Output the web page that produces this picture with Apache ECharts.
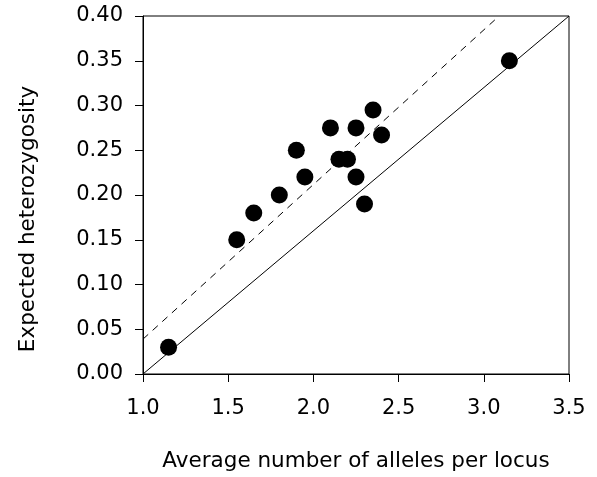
<!DOCTYPE html>
<html>
<head>
<meta charset="utf-8">
<script src="https://cdn.jsdelivr.net/npm/echarts@6/dist/echarts.min.js"></script>
<style>html,body{margin:0;padding:0;background:#fff}#c{width:597px;height:477px}</style>
</head>
<body>
<div id="c"></div>
<script>
var allelesX = [1.15, 1.55, 1.65, 1.80, 1.90, 1.95, 2.10, 2.15, 2.20, 2.25, 2.25, 2.35, 2.40, 2.30, 3.15];
var heteroY = [0.03, 0.15, 0.18, 0.20, 0.25, 0.22, 0.275, 0.24, 0.24, 0.275, 0.22, 0.295, 0.267, 0.19, 0.35];
var solidLineX = [1.0, 3.5];
var solidLineY = [0.0, 0.40];
var dashedLineX = [1.0, 3.09];
var dashedLineY = [0.039, 0.40];
var xTicks = [1.0, 1.5, 2.0, 2.5, 3.0, 3.5];
var yTicks = [0.00, 0.05, 0.10, 0.15, 0.20, 0.25, 0.30, 0.35, 0.40];

function pairs(xs, ys){ return xs.map(function(x,i){ return [x, ys[i]]; }); }

var font = 'DejaVu Sans';
var chart = echarts.init(document.getElementById('c'), null, {renderer:'canvas'});
chart.setOption({
  animation: false,
  backgroundColor: '#fff',
  grid: {left: 143, right: 28, top: 16, bottom: 103, show: true, borderColor: '#000', borderWidth: 1, backgroundColor: 'transparent'},
  xAxis: {
    type: 'value', min: xTicks[0], max: xTicks[xTicks.length-1], interval: 0.5,
    name: 'Average number of alleles per locus', nameLocation: 'middle', nameGap: 76,
    nameTextStyle: {fontFamily: font, fontSize: 21.5, color: '#000'},
    axisLine: {show: true, lineStyle: {color: '#000', width: 1}},
    axisTick: {show: true, inside: false, length: 8, lineStyle: {color: '#000'}},
    axisLabel: {fontFamily: font, fontSize: 21, color: '#000', margin: 24,
      formatter: function(v){ return v.toFixed(1); }},
    splitLine: {show: false}
  },
  yAxis: {
    type: 'value', min: yTicks[0], max: yTicks[yTicks.length-1], interval: 0.05,
    name: 'Expected heterozygosity', nameLocation: 'middle', nameGap: 104, nameRotate: 90,
    nameTextStyle: {fontFamily: font, fontSize: 21.5, color: '#000', padding: [0, 48, 0, 0]},
    axisLine: {show: true, lineStyle: {color: '#000', width: 1}},
    axisTick: {show: true, inside: false, length: 8, lineStyle: {color: '#000'}},
    axisLabel: {fontFamily: font, fontSize: 21, color: '#000', margin: 20,
      formatter: function(v){ return v.toFixed(2); }},
    splitLine: {show: false}
  },
  series: [
    {type: 'line', data: pairs(solidLineX, solidLineY), symbol: 'none',
     lineStyle: {color: '#000', width: 1}, z: 1},
    {type: 'line', data: pairs(dashedLineX, dashedLineY), symbol: 'none',
     lineStyle: {color: '#000', width: 1, type: [7, 6]}, z: 1},
    {type: 'scatter', data: pairs(allelesX, heteroY), symbol: 'circle', symbolSize: 17,
     itemStyle: {color: '#000', opacity: 1}, z: 3}
  ]
});
</script>
</body>
</html>
